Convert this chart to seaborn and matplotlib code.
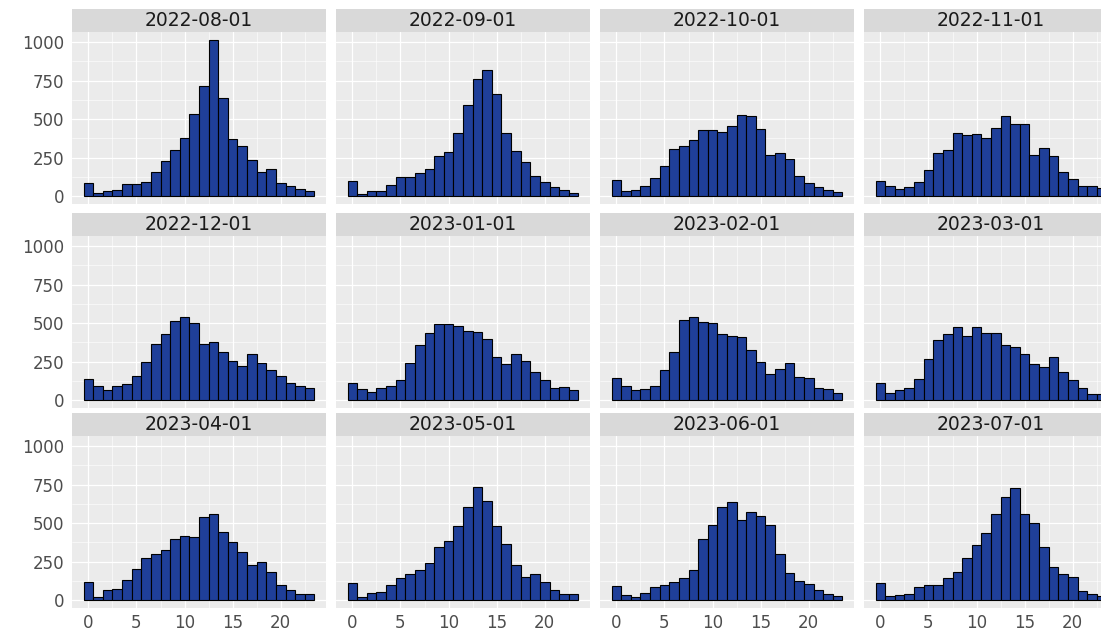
import numpy as np
import pandas as pd
import matplotlib
matplotlib.use("Agg")
import matplotlib.pyplot as plt
import seaborn as sns
from matplotlib.patches import Rectangle
from matplotlib.ticker import MultipleLocator


months = ["2022-08-01", "2022-09-01", "2022-10-01", "2022-11-01",
          "2022-12-01", "2023-01-01", "2023-02-01", "2023-03-01",
          "2023-04-01", "2023-05-01", "2023-06-01", "2023-07-01"]
hours = list(range(24))

# counts per hour of day
aug_2022 = [86, 21, 32, 41, 79, 82, 90, 157, 230, 300, 375, 536,
            715, 1015, 640, 371, 326, 234, 157, 176, 86, 67, 45, 32]
sep_2022 = [97, 15, 32, 32, 73, 127, 127, 148, 174, 258, 285, 412,
            594, 762, 820, 661, 412, 294, 225, 133, 92, 58, 39, 21]
oct_2022 = [107, 36, 41, 69, 118, 193, 305, 328, 365, 427, 427, 414,
            457, 528, 521, 436, 268, 283, 242, 129, 86, 58, 39, 26]
nov_2022 = [101, 64, 45, 60, 90, 167, 281, 303, 408, 397, 401, 376,
            444, 521, 466, 466, 266, 313, 258, 157, 109, 67, 67, 54]
dec_2022 = [135, 92, 69, 90, 107, 155, 250, 363, 430, 512, 542, 503,
            363, 380, 314, 254, 221, 303, 243, 194, 159, 110, 92, 82]
jan_2023 = [110, 75, 54, 82, 90, 133, 239, 357, 437, 495, 495, 484,
            447, 443, 398, 280, 234, 299, 256, 181, 133, 82, 86, 67]
feb_2023 = [142, 90, 69, 73, 95, 194, 314, 520, 542, 508, 499, 430,
            419, 411, 327, 245, 172, 204, 239, 153, 142, 77, 73, 49]
mar_2023 = [112, 49, 69, 77, 140, 265, 391, 430, 473, 419, 473, 437,
            434, 357, 344, 301, 237, 215, 280, 181, 133, 77, 43, 43]
apr_2023 = [116, 19, 65, 75, 131, 203, 274, 300, 328, 397, 418, 412,
            543, 558, 440, 379, 315, 231, 246, 185, 101, 67, 43, 37]
may_2023 = [112, 22, 47, 52, 101, 144, 170, 198, 244, 347, 384, 481,
            606, 733, 642, 481, 366, 226, 153, 172, 119, 69, 37, 37]
jun_2023 = [93, 34, 22, 47, 84, 99, 119, 144, 198, 394, 487, 606,
            638, 519, 571, 547, 489, 302, 179, 125, 108, 69, 39, 26]
jul_2023 = [114, 24, 32, 39, 88, 97, 101, 144, 183, 272, 358, 433,
            560, 670, 726, 560, 502, 347, 216, 172, 153, 62, 43, 28]

series = [aug_2022, sep_2022, oct_2022, nov_2022, dec_2022, jan_2023,
          feb_2023, mar_2023, apr_2023, may_2023, jun_2023, jul_2023]

rows = []
for m, vals in zip(months, series):
    for h, c in zip(hours, vals):
        rows.append((m, h, c))
df = pd.DataFrame(rows, columns=["month", "hour", "count"])

sns.set_theme(style="white")
plt.rcParams["font.family"] = ["DejaVu Sans"]

g = sns.FacetGrid(df, col="month", col_wrap=4, col_order=months,
                  sharex=True, sharey=True, height=2, aspect=1.4)
g.map_dataframe(sns.histplot, x="hour", weights="count", discrete=True,
                color="#1F3F99", edgecolor="black", linewidth=0.8, alpha=1)

fig = g.figure
fig.set_size_inches(11.01, 6.34)
fig.set_dpi(100)

W, H = 1101, 634
col_left = [72, 336, 600, 864]
panel_w = 254
row_bottom = [204, 408, 608]
panel_h = 172
strip_h = 23

ymax = max(max(s) for s in series)
ylim = (-0.05 * ymax, 1.05 * ymax)

for i, ax in enumerate(g.axes.flat):
    r, c = divmod(i, 4)
    ax.set_position([col_left[c] / W, 1 - row_bottom[r] / H,
                     panel_w / W, panel_h / H])
    ax.set_facecolor("#EBEBEB")
    ax.set_xlim(-1.7, 24.7)
    ax.set_ylim(*ylim)
    ax.set_xticks([0, 5, 10, 15, 20])
    ax.set_yticks([0, 250, 500, 750, 1000])
    ax.xaxis.set_minor_locator(MultipleLocator(2.5))
    ax.yaxis.set_minor_locator(MultipleLocator(125))
    ax.grid(which="major", color="white", linewidth=0.9)
    ax.grid(which="minor", color="white", linewidth=0.4)
    ax.set_axisbelow(True)
    for sp in ax.spines.values():
        sp.set_visible(False)
    ax.tick_params(which="major", length=4, width=1, color="#333333",
                   labelcolor="#4D4D4D", labelsize=12, pad=1.5)
    ax.tick_params(axis="x", which="major", pad=0.5)
    ax.tick_params(which="minor", length=0)
    ax.set_title("")
    ax.set_xlabel("")
    ax.set_ylabel("")
    # strip on top of the panel
    sh = strip_h / panel_h
    ax.add_patch(Rectangle((0, 1), 1, sh, transform=ax.transAxes,
                           facecolor="#D9D9D9", edgecolor="none", clip_on=False))
    ax.text(0.5, 1 + sh / 2, months[i], transform=ax.transAxes,
            ha="center", va="center", fontsize=13.5, color="#1A1A1A")

fig.savefig("out.png", dpi=100, facecolor="white")
